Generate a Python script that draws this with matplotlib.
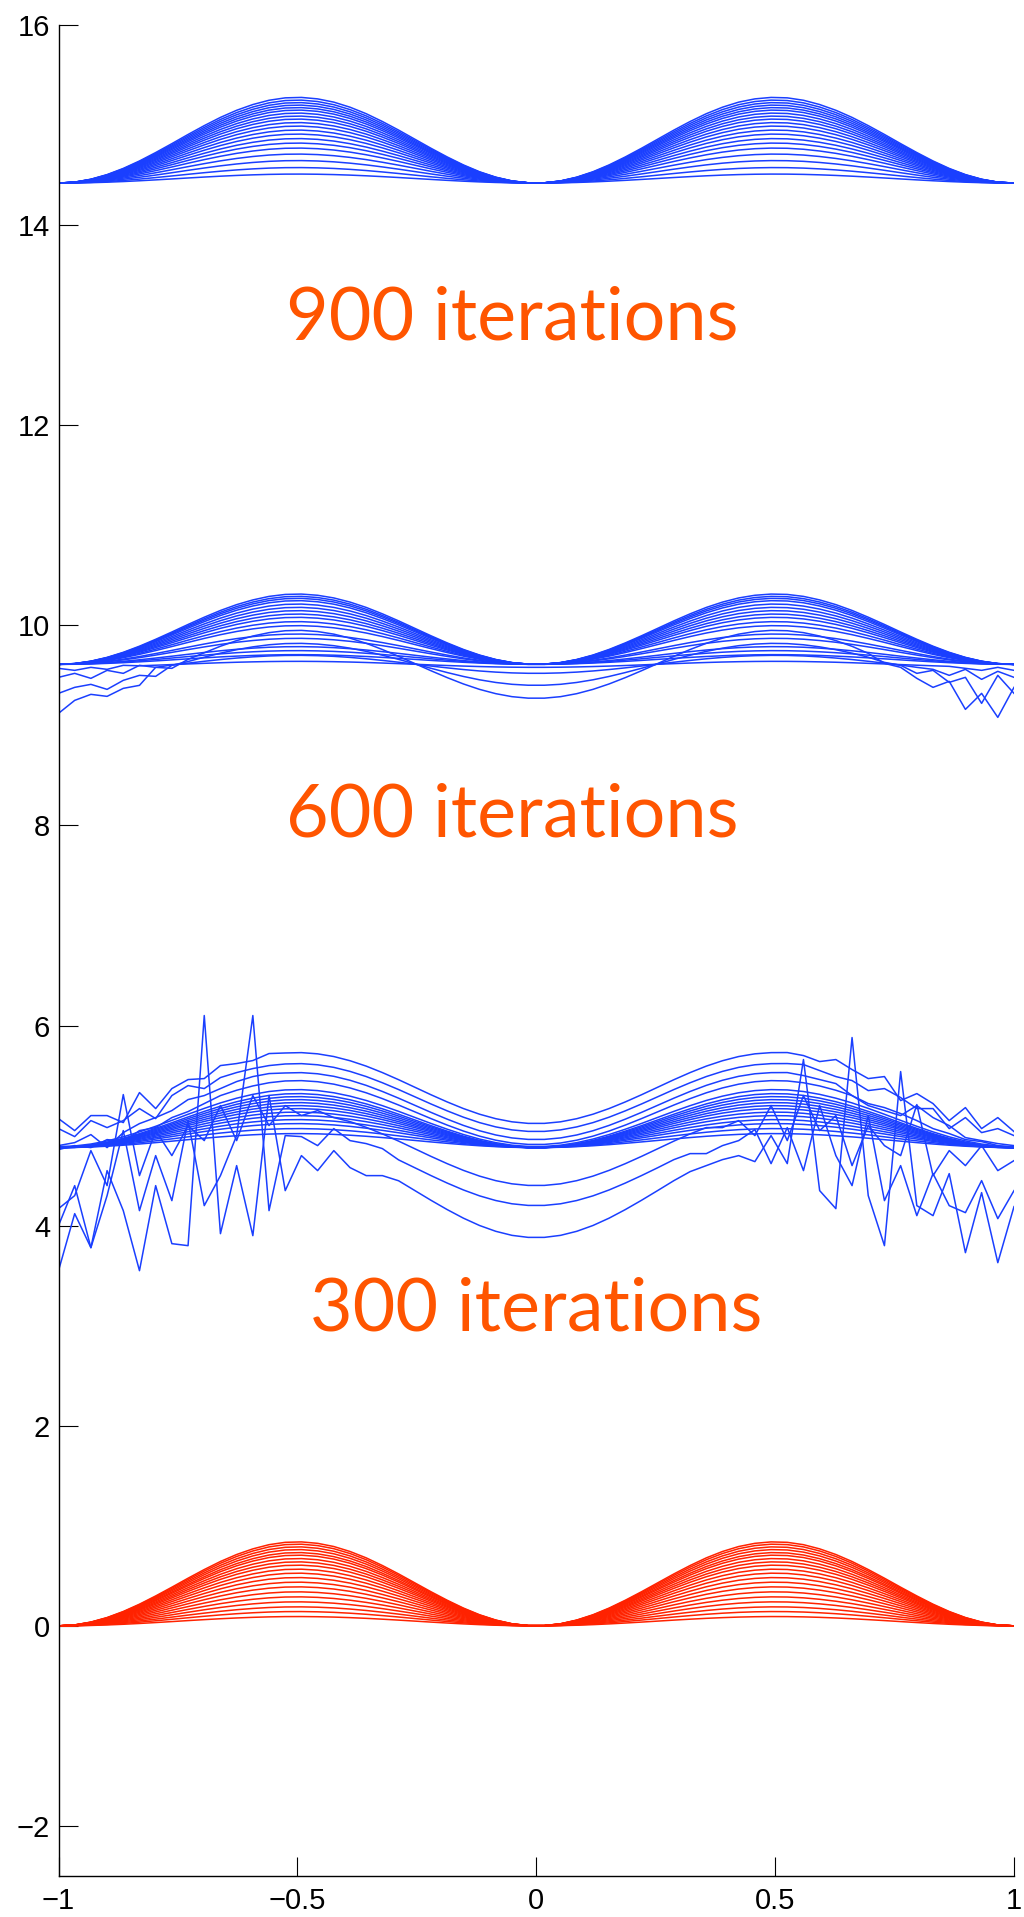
import numpy as np
import matplotlib
matplotlib.use("Agg")
import matplotlib.pyplot as plt

plt.rcParams['font.family'] = ['Liberation Sans', 'DejaVu Sans']

# grid of the solver (60 points from -1 to 1)
x = np.linspace(-1, 1, 60)

# shape of the smooth mode (peak = 1)
profile = [0.000, 0.011, 0.045, 0.099, 0.171, 0.258, 0.356, 0.460, 0.567, 0.670,
           0.766, 0.849, 0.916, 0.966, 0.994, 0.999, 0.982, 0.944, 0.885, 0.809,
           0.718, 0.618, 0.512, 0.406, 0.305, 0.212, 0.132, 0.069, 0.025, 0.003,
           0.003, 0.025, 0.069, 0.132, 0.212, 0.305, 0.406, 0.512, 0.618, 0.718,
           0.809, 0.885, 0.944, 0.982, 0.999, 0.994, 0.966, 0.916, 0.849, 0.766,
           0.670, 0.567, 0.460, 0.356, 0.258, 0.171, 0.099, 0.045, 0.011, 0.000]

# exact solutions (red)
red_amp = [0.84, 0.817, 0.79, 0.763, 0.733, 0.707, 0.673, 0.64, 0.607, 0.567,
           0.527, 0.483, 0.437, 0.39, 0.34, 0.29, 0.24, 0.19, 0.143, 0.093]

# 900 iterations
base_900 = 14.42
amp_900 = [0.857, 0.83, 0.805, 0.78, 0.755, 0.73, 0.70, 0.67, 0.64, 0.605,
           0.57, 0.53, 0.49, 0.445, 0.40, 0.35, 0.29, 0.225, 0.155, 0.09]

# 600 iterations
base_600 = 9.61
amp_600 = [0.703, 0.68, 0.66, 0.637, 0.603, 0.57, 0.537, 0.503, 0.47, 0.427,
           0.387, 0.303, 0.26, 0.177, 0.137, 0.097]
d1_left = [9.57, 9.55, 9.58, 9.56, 9.60]
d1_right = [9.59, 9.57, 9.55, 9.58, 9.55]
d2_left = [9.48, 9.52, 9.47, 9.55, 9.52, 9.60, 9.58]
d2_right = [9.58, 9.56, 9.50, 9.56, 9.46, 9.54, 9.48]
d3_left = [9.32, 9.38, 9.41, 9.36, 9.45, 9.50, 9.49, 9.60]
d3_right = [9.63, 9.60, 9.52, 9.55, 9.43, 9.48, 9.22, 9.50, 9.32]
d4_left = [9.12, 9.25, 9.31, 9.29, 9.37, 9.40, 9.58, 9.57, 9.66]
d4_right = [9.79, 9.72, 9.62, 9.58, 9.47, 9.38, 9.44, 9.16, 9.32, 9.08, 9.38]

# 300 iterations
base_300 = 4.78
amp_300 = [0.54, 0.51, 0.48, 0.45, 0.42, 0.39, 0.355, 0.32, 0.28, 0.24, 0.19, 0.14]
u1_left = [5.07, 4.95, 5.10, 5.10, 5.03, 5.33, 5.17, 5.37, 5.46, 5.47, 5.60, 5.62, 5.65, 5.72]
u1_right = [5.73, 5.70, 5.64, 5.66, 5.56, 5.47, 5.49, 5.25, 5.32, 5.22, 5.05, 5.18, 4.97, 5.08, 4.94]
u2_left = [4.97, 4.89, 5.05, 4.98, 5.05, 5.17, 5.07, 5.30, 5.40, 5.37, 5.48, 5.53, 5.57, 5.60]
u2_right = [5.62, 5.61, 5.55, 5.49, 5.45, 5.35, 5.37, 5.28, 5.17, 5.17, 4.97, 5.08, 4.93, 4.97, 4.90]
u3_left = [4.80, 4.83, 4.91, 4.78, 4.93, 5.02, 5.08, 5.15, 5.26, 5.30, 5.37, 5.44, 5.49, 5.52]
u3_right = [5.53, 5.50, 5.46, 5.42, 5.30, 5.20, 5.15, 5.10, 5.20, 5.08, 5.00, 4.88, 4.85, 4.82, 4.80]
u4_left = [4.76, 4.80, 4.78, 4.86, 4.84, 4.95, 4.98, 5.08, 5.14, 5.22, 5.30]
u4_right = [5.30, 5.22, 5.18, 5.12, 5.05, 4.97, 4.92, 4.86, 4.84, 4.80, 4.78]
l1_left = [4.17, 4.30, 4.75, 4.40, 5.31, 4.50, 4.95, 4.70, 5.00, 4.85, 5.20, 4.85, 5.30,
           5.00, 5.20, 5.10, 5.15, 5.08, 5.04]
l1_right = [4.98, 4.98, 5.05, 4.90, 5.20, 4.85, 5.30, 4.95, 5.10, 4.60, 5.00, 4.80, 4.70,
            5.21, 4.50, 4.75, 4.60, 4.80, 4.55, 4.65]
l2_left = [4.00, 4.40, 3.78, 4.30, 4.95, 4.15, 4.70, 4.25, 5.05, 4.20, 4.50, 4.90, 6.10,
           4.15, 4.90, 4.89, 4.80, 4.97, 4.85, 4.82, 4.77]
l2_right = [4.66, 4.72, 4.72, 4.80, 4.85, 4.96, 4.62, 4.98, 4.55, 5.20, 4.70, 4.40, 5.10,
            4.25, 4.60, 4.10, 4.52, 4.20, 4.13, 4.45, 4.07, 4.35]
l3_left = [3.55, 4.12, 3.78, 4.55, 4.15, 3.55, 4.40, 3.82, 3.80, 6.10, 3.92, 4.60, 3.90,
           5.30, 4.35, 4.70, 4.55, 4.75, 4.58, 4.50, 4.50]
l3_right = [4.45, 4.54, 4.60, 4.66, 4.70, 4.64, 4.90, 4.62, 5.66, 4.35, 4.17, 5.88, 4.30,
            3.80, 5.54, 4.20, 4.10, 4.52, 3.73, 4.33, 3.63, 4.19]

labels = ['900 iterations', '600 iterations', '300 iterations']
label_pos = [(-0.05, 12.86), (-0.05, 7.89), (0.0, 2.95)]

blue = '#1a3fff'
red = '#ff2200'
orange = '#ff5500'


def curve(c, a, left=(), right=()):
    y = c + a * np.array(profile)
    y[:len(left)] = left
    if len(right):
        y[len(y) - len(right):] = right
    return y


fig = plt.figure(figsize=(10.24, 19.17), dpi=100)
ax = fig.add_axes([58.5 / 1024, 41 / 1917, 955.5 / 1024, 1851 / 1917])

lw = 1.1
for a in red_amp:
    ax.plot(x, curve(0, a), color=red, lw=lw)

for a in amp_900:
    ax.plot(x, curve(base_900, a), color=blue, lw=lw)

for a in amp_600:
    ax.plot(x, curve(base_600, a), color=blue, lw=lw)
for c, a, le, ri in [(9.58, 0.06, d1_left, d1_right), (9.52, 0.18, d2_left, d2_right),
                     (9.40, 0.42, d3_left, d3_right), (9.27, 0.68, d4_left, d4_right)]:
    ax.plot(x, curve(c, a, le, ri), color=blue, lw=lw)

for a in amp_300:
    ax.plot(x, curve(base_300, a), color=blue, lw=lw)
for c, a, le, ri in [(5.02, 0.71, u1_left, u1_right), (4.94, 0.68, u2_left, u2_right),
                     (4.86, 0.67, u3_left, u3_right), (4.81, 0.64, u4_left, u4_right),
                     (4.79, 0.57, (), ()),
                     (4.40, 0.72, l1_left, l1_right), (4.20, 0.74, l2_left, l2_right),
                     (3.88, 0.92, l3_left, l3_right)]:
    ax.plot(x, curve(c, a, le, ri), color=blue, lw=lw)

for txt, (tx, ty) in zip(labels, label_pos):
    ax.text(tx, ty, txt, color=orange, fontsize=53, family=['Lato', 'DejaVu Sans'],
            ha='center', va='baseline')

ax.set_xlim(-1, 1)
ax.set_ylim(-2.5, 16)
ax.set_xticks([-1, -0.5, 0, 0.5, 1])
ax.set_xticklabels(['\u22121', '\u22120.5', '0', '0.5', '1'])
ax.set_yticks(range(-2, 17, 2))
ax.set_yticklabels(['\u22122', '0', '2', '4', '6', '8', '10', '12', '14', '16'])
for s in ['top', 'right']:
    ax.spines[s].set_visible(False)
for s in ['left', 'bottom']:
    ax.spines[s].set_linewidth(1.0)
ax.tick_params(direction='in', length=13.5, width=0.8, labelsize=21)
ax.tick_params(axis='y', pad=6)
ax.tick_params(axis='x', pad=8)

fig.savefig('out.png', dpi=100)
